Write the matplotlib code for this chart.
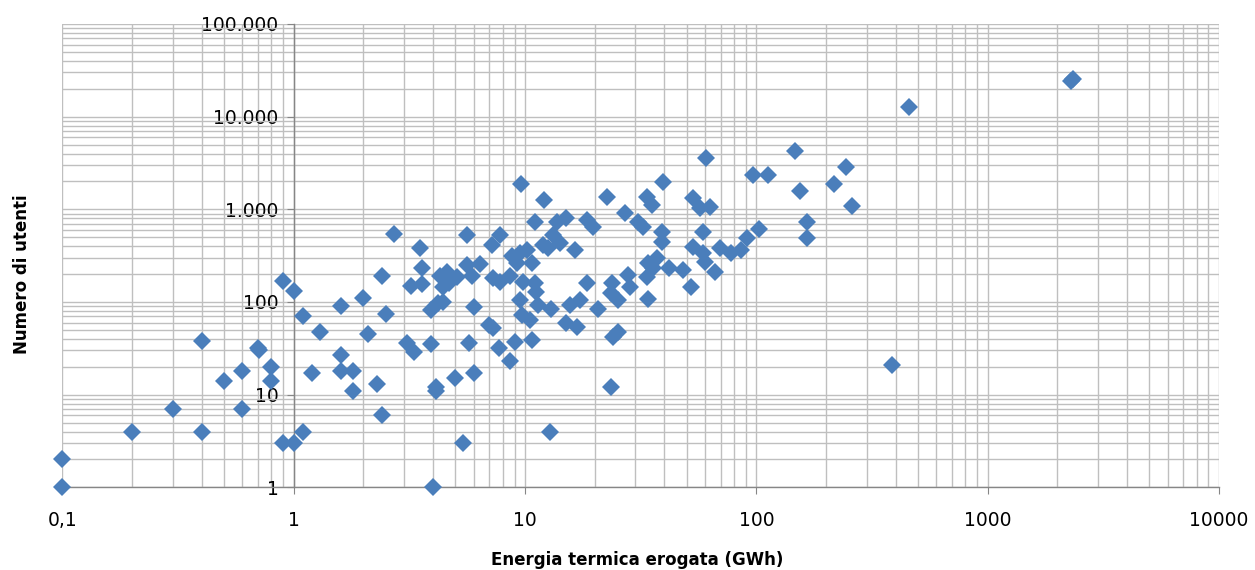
import matplotlib.pyplot as plt
from matplotlib.ticker import LogLocator, NullFormatter

# Energia termica erogata (GWh) vs numero di utenti, one point per network
energia_gwh = [
    0.1, 0.1, 0.2, 0.3, 0.4, 0.4, 0.5, 0.6, 0.6, 0.7,
    0.71, 0.8, 0.8, 0.9, 0.9, 1.0, 1.0, 1.1, 1.1, 1.2,
    1.3, 1.6, 1.6, 1.6, 1.8, 1.8, 2.0, 2.1, 2.3, 2.4,
    2.4, 2.5, 2.7, 3.1, 3.2, 3.3, 3.5, 3.6, 3.6, 3.9,
    3.9, 4.0, 4.1, 4.1, 4.2, 4.3, 4.4, 4.6, 4.7, 5.0,
    5.1, 5.4, 5.6, 5.6, 5.7, 5.9, 6.0, 6.0, 6.4, 7.0,
    7.3, 7.2, 7.3, 7.7, 7.8, 7.8, 8.6, 9.0, 8.75, 9.2,
    8.6, 9.6, 9.5, 9.5, 9.7, 9.8, 10.2, 10.5, 10.7, 10.7,
    11.0, 11.0, 11.2, 11.4, 12.0, 12.1, 12.6, 12.8, 13.0, 13.2,
    13.7, 14.2, 15.0, 15.1, 15.6, 16.4, 16.7, 17.3, 18.5, 18.5,
    19.7, 20.7, 22.5, 23.5, 23.8, 23.5, 25.3, 25.3, 24.1, 27.0,
    27.9, 28.4, 30.9, 32.4, 33.6, 35.3, 33.6, 34.1, 35.8, 34.1,
    37.1, 39.0, 39.0, 39.6, 42.0, 48.3, 52.1, 53.0, 53.4, 57.0,
    58.9, 58.9, 60.0, 60.7, 63.0, 66.0, 69.6, 78.0, 86.0, 91.0,
    97.0, 103.0, 112.0, 147.0, 155.0, 166.0, 166.0, 217.0, 243.0, 258.0,
    385.0, 458.0, 2330.0, 2300.0, 4.4,
]
numero_utenti = [
    1, 2, 4, 7, 4, 38, 14, 7, 18, 32,
    30, 20, 14, 170, 3, 130, 3, 4, 71, 17,
    48, 91, 27, 18, 18, 11, 110, 45, 13, 190,
    6, 75, 540, 36, 150, 29, 380, 230, 156, 35,
    82, 1, 12, 11, 97, 190, 100, 210, 160, 15,
    187, 3, 530, 250, 36, 190, 89, 17, 260, 56,
    52, 410, 180, 32, 530, 165, 23, 37, 310, 261,
    190, 1870, 334, 105, 72, 165, 363, 64, 261, 39,
    159, 733, 129, 93, 411, 1257, 380, 4, 85, 530,
    733, 429, 59, 798, 93, 363, 54, 105, 159, 765,
    648, 83, 1364, 12, 159, 124, 105, 48, 42, 903,
    195, 146, 733, 638, 1364, 1110, 187, 261, 230, 109,
    295, 572, 446, 1980, 230, 221, 146, 1312, 394, 1023,
    572, 334, 271, 3540, 1065, 212, 380, 334, 363, 485,
    2340, 607, 2340, 4280, 1585, 733, 485, 1870, 2852, 1083,
    21, 12760, 25200, 24500, 145,
]

x_ticks = [0.1, 1, 10, 100, 1000, 10000]
x_labels = ["0,1", "1", "10", "100", "1000", "10000"]
y_ticks = [1, 10, 100, 1000, 10000, 100000]
y_labels = ["1", "10", "100", "1.000", "10.000", "100.000"]

fig = plt.figure(figsize=(12.55, 5.70), dpi=100)
ax = fig.add_axes([0.0498, 0.1451, 0.9215, 0.8128])
ax.set_xscale('log')
ax.set_yscale('log')
ax.set_xlim(0.1, 10000)
ax.set_ylim(1, 100000)

ax.plot(energia_gwh, numero_utenti, linestyle='none', marker='D', markersize=8.8,
        color='#4a7ebb', markeredgewidth=0, clip_on=False, zorder=3)

ax.set_xticks(x_ticks)
ax.set_xticklabels(x_labels)
ax.set_yticks(y_ticks)
ax.set_yticklabels(y_labels)
ax.xaxis.set_minor_locator(LogLocator(base=10, subs=range(2, 10), numticks=20))
ax.yaxis.set_minor_locator(LogLocator(base=10, subs=range(2, 10), numticks=20))
ax.xaxis.set_minor_formatter(NullFormatter())
ax.yaxis.set_minor_formatter(NullFormatter())

ax.grid(True, which='both', color='#bfbfbf', linewidth=1.0)
ax.set_axisbelow(True)

# y axis crosses at x = 1, like the original Excel chart
ax.spines['left'].set_position(('data', 1))
ax.spines['top'].set_visible(False)
ax.spines['right'].set_visible(False)
for side in ['left', 'bottom']:
    ax.spines[side].set_color('#868686')
    ax.spines[side].set_linewidth(1.0)

ax.tick_params(which='major', direction='out', length=5, color='#868686',
               labelsize=13.5, labelcolor='black')
ax.tick_params(which='minor', length=0)
ax.tick_params(axis='x', pad=12)
ax.tick_params(axis='y', pad=6)

ax.set_xlabel("Energia termica erogata (GWh)", fontsize=12, fontweight='bold')
ax.xaxis.set_label_coords(0.497, -0.137)
ax.set_ylabel("Numero di utenti", fontsize=12, fontweight='bold')
ax.yaxis.set_label_coords(-0.027, 0.46)

fig.savefig('out.png', dpi=100)
